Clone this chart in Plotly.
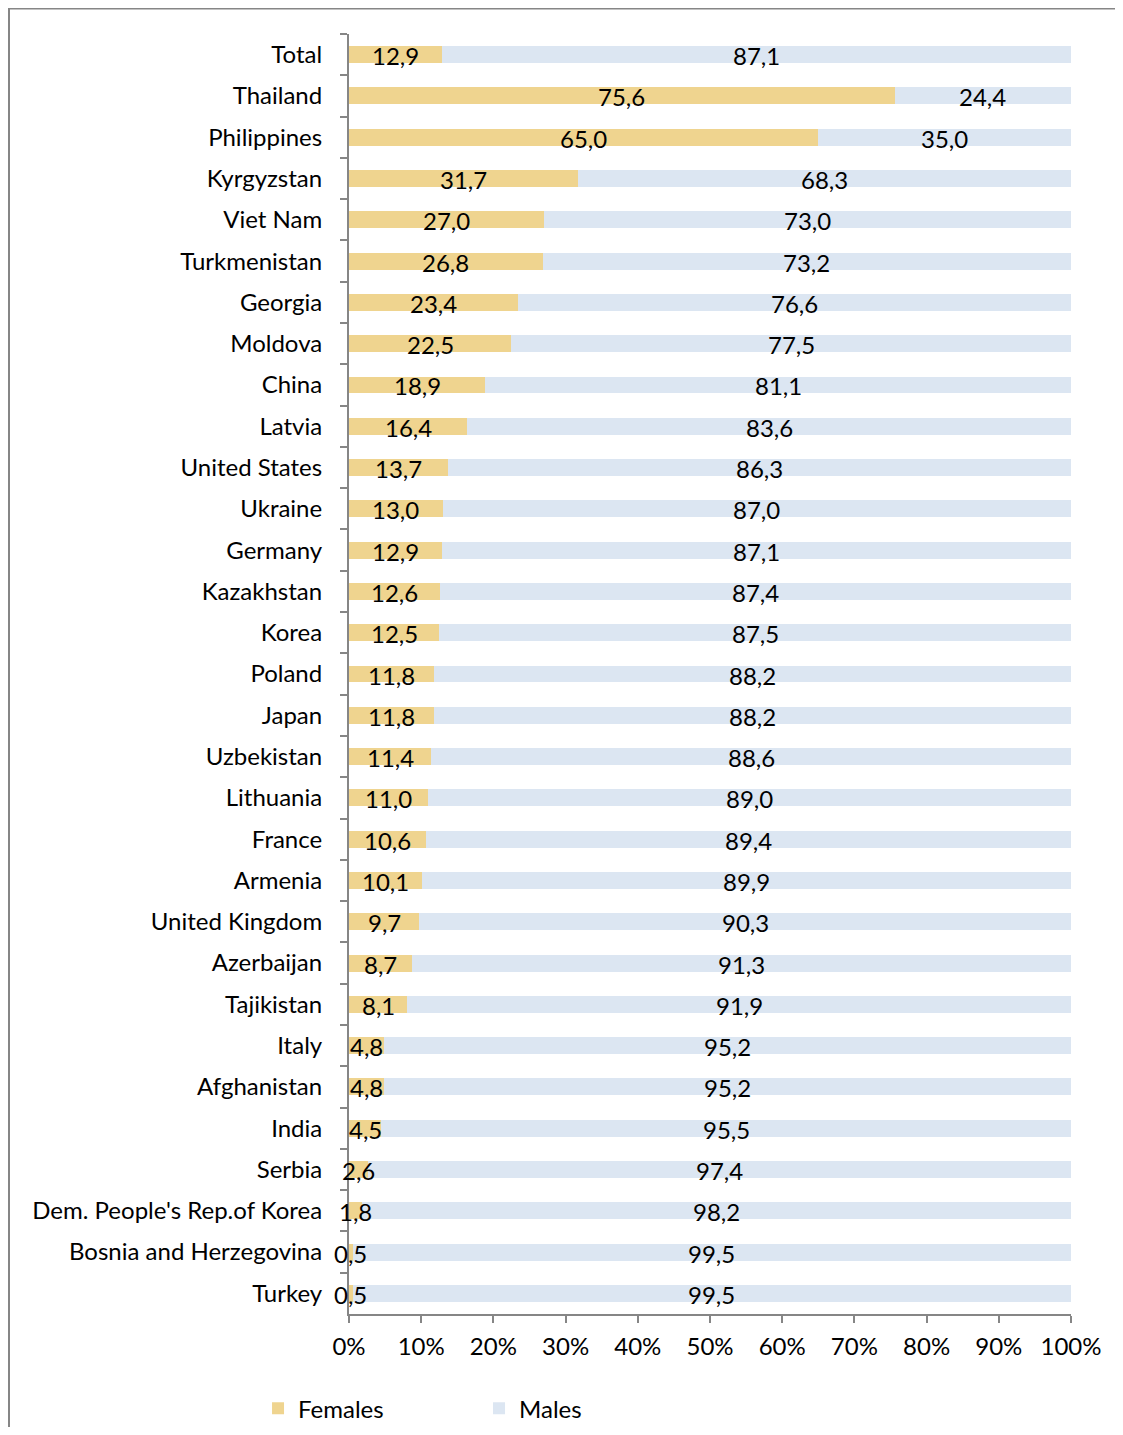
import plotly.graph_objects as go

countries = ["Total", "Thailand", "Philippines", "Kyrgyzstan", "Viet Nam", "Turkmenistan",
             "Georgia", "Moldova", "China", "Latvia", "United States", "Ukraine", "Germany",
             "Kazakhstan", "Korea", "Poland", "Japan", "Uzbekistan", "Lithuania", "France",
             "Armenia", "United Kingdom", "Azerbaijan", "Tajikistan", "Italy", "Afghanistan",
             "India", "Serbia", "Dem. People's Rep.of Korea", "Bosnia and Herzegovina", "Turkey"]
females = [12.9, 75.6, 65.0, 31.7, 27.0, 26.8, 23.4, 22.5, 18.9, 16.4, 13.7, 13.0, 12.9,
           12.6, 12.5, 11.8, 11.8, 11.4, 11.0, 10.6, 10.1, 9.7, 8.7, 8.1, 4.8, 4.8, 4.5,
           2.6, 1.8, 0.5, 0.5]
males = [87.1, 24.4, 35.0, 68.3, 73.0, 73.2, 76.6, 77.5, 81.1, 83.6, 86.3, 87.0, 87.1,
         87.4, 87.5, 88.2, 88.2, 88.6, 89.0, 89.4, 89.9, 90.3, 91.3, 91.9, 95.2, 95.2, 95.5,
         97.4, 98.2, 99.5, 99.5]
tick_vals = [0, 10, 20, 30, 40, 50, 60, 70, 80, 90, 100]
tick_text = ["0%", "10%", "20%", "30%", "40%", "50%", "60%", "70%", "80%", "90%", "100%"]

FONT = "Lato, Carlito, Calibri, sans-serif"
FS = 24
AXIS = "#868686"
F_COL = "#EFD48F"
M_COL = "#DCE6F2"


def fmt(v):
    return f"{v:.1f}".replace(".", ",")


fig = go.Figure()
fig.add_trace(go.Bar(
    y=countries, x=females, name="Females", orientation="h",
    marker=dict(color=F_COL, line=dict(width=0)), hoverinfo="skip",
))
fig.add_trace(go.Bar(
    y=countries, x=males, name="Males", orientation="h",
    marker=dict(color=M_COL, line=dict(width=0)), hoverinfo="skip",
))

# data labels centred in each stacked segment, drawn above all bars
annotations = []
for c, f, m in zip(countries, females, males):
    annotations.append(dict(x=f / 2, y=c, xref="x", yref="y", text=fmt(f), showarrow=False,
                            xanchor="center", yanchor="middle", yshift=-1,
                            font=dict(family=FONT, size=FS, color="black")))
    annotations.append(dict(x=f + m / 2, y=c, xref="x", yref="y", text=fmt(m),
                            showarrow=False, xanchor="center", yanchor="middle", yshift=-1,
                            font=dict(family=FONT, size=FS, color="black")))

W, H = 1107, 1419
L, T = 341, 26.4
R = W - 1063
B = H - 1305.6
PW = W - L - R
PH = H - T - B

fig.update_layout(
    width=W, height=H,
    margin=dict(l=L, r=R, t=T, b=B, pad=0, autoexpand=False),
    barmode="stack", bargap=0.59,
    paper_bgcolor="white", plot_bgcolor="white",
    font=dict(family=FONT, size=FS, color="black"),
    showlegend=True,
    legend=dict(orientation="h", x=-0.126, xanchor="left", y=-0.074, yanchor="middle",
                entrywidth=176, entrywidthmode="pixels", font=dict(family=FONT, size=FS),
                traceorder="normal"),
    xaxis=dict(range=[0, 100], tickvals=tick_vals, ticktext=tick_text, showgrid=False,
               zeroline=False, showline=True, linecolor=AXIS, linewidth=2,
               ticks="outside", ticklen=7, tickwidth=2, tickcolor=AXIS,
               ticklabelstandoff=3, fixedrange=True),
    yaxis=dict(range=[len(countries) - 0.5, -0.5], showgrid=False, zeroline=False,
               showline=True, linecolor=AXIS, linewidth=2, ticks="outside", ticklen=7,
               tickwidth=2, tickcolor=AXIS, tickson="boundaries", ticklabelstandoff=20,
               fixedrange=True),
    annotations=annotations,
    shapes=[dict(type="rect", xref="paper", yref="paper",
                 x0=(1 - L) / PW, x1=1.3, y0=-0.3, y1=(H - B - 1) / PH,
                 line=dict(color=AXIS, width=2), fillcolor="rgba(0,0,0,0)",
                 layer="below")],
)

fig.write_html("out.html")
